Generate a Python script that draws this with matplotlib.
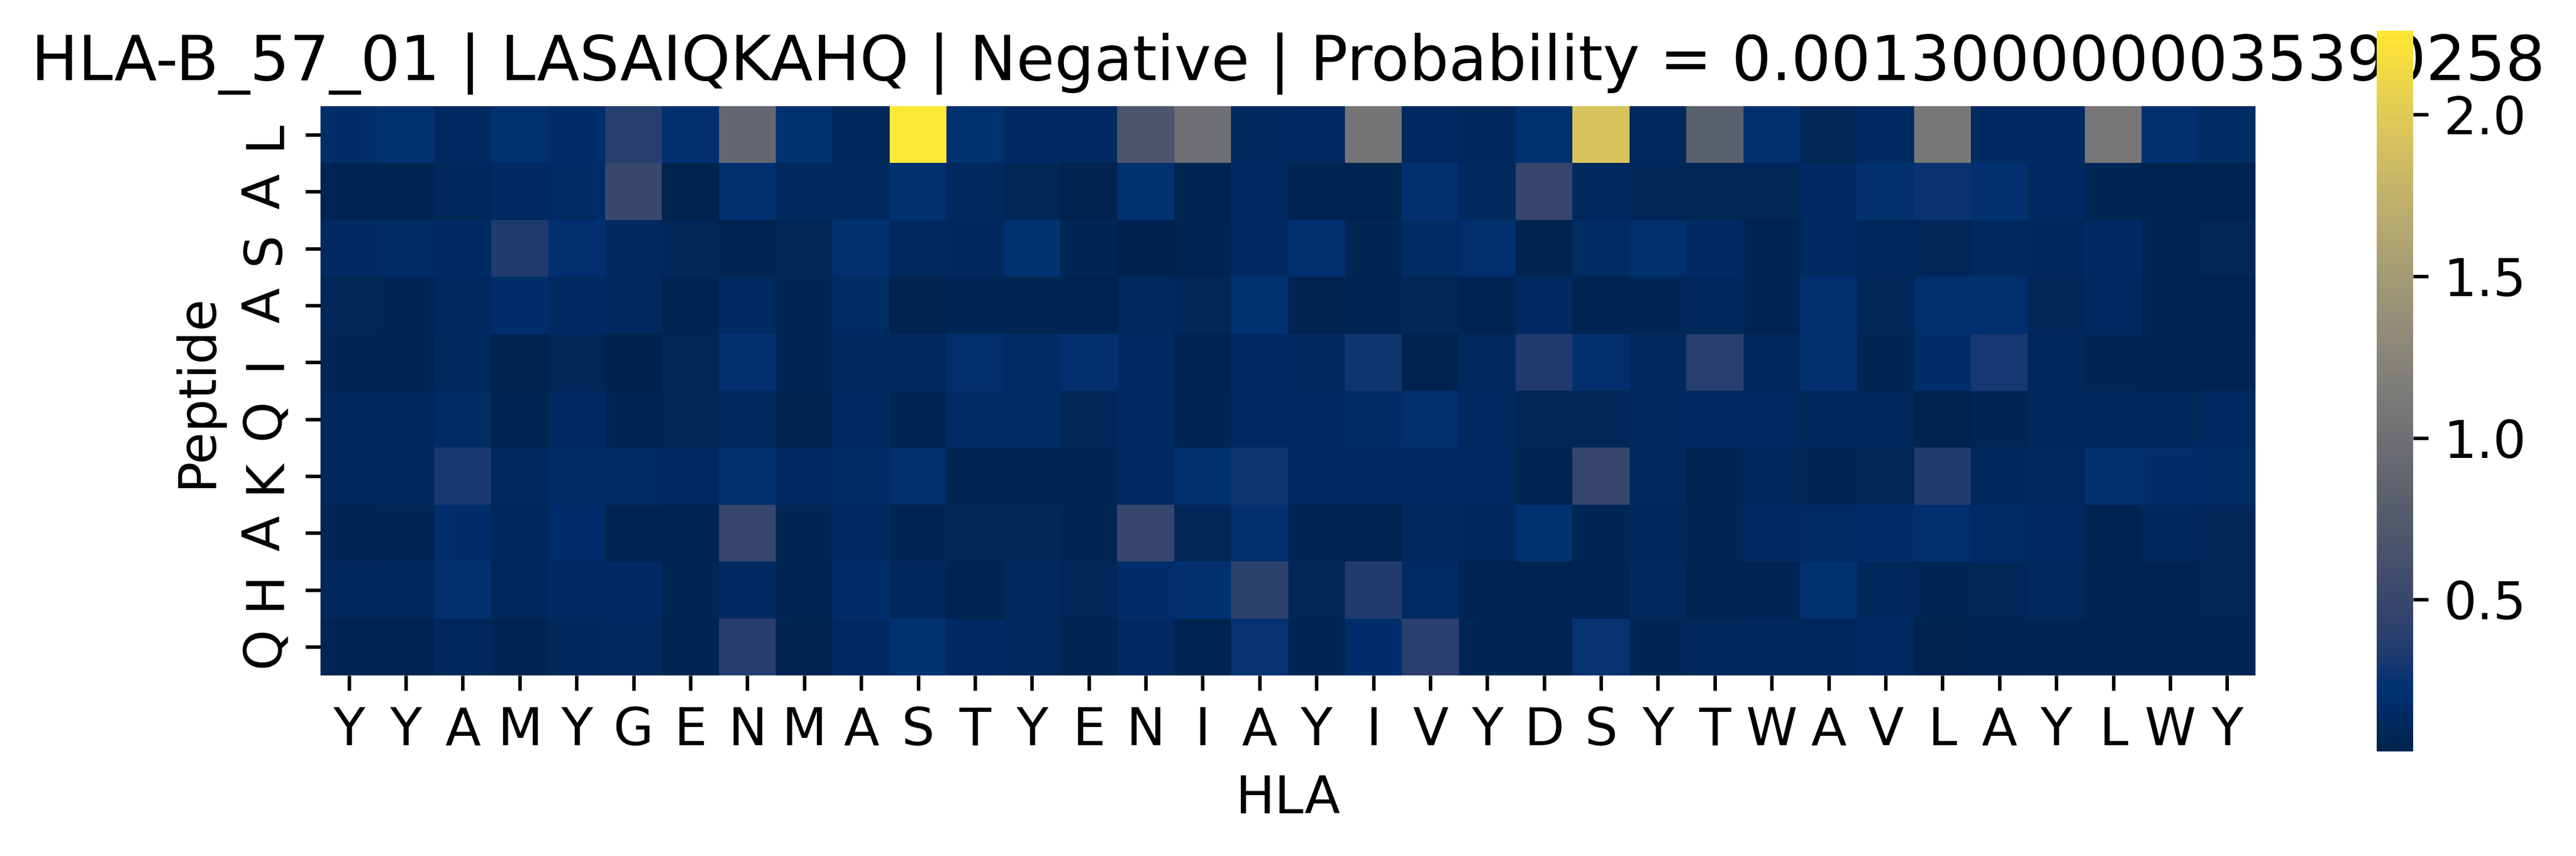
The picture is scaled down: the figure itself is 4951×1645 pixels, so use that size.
import numpy as np
import matplotlib
matplotlib.use("Agg")
import matplotlib.pyplot as plt
import seaborn as sns

hla_labels = list("YYAMYGENMASTYENIAYIVYDSYTWAVLAYLWY")
peptide_labels = list("LASAIQKAHQ")

row_L = [0.17, 0.22, 0.12, 0.22, 0.17, 0.38, 0.20, 0.90, 0.22, 0.10, 2.26, 0.22,
         0.13, 0.13, 0.68, 1.00, 0.11, 0.13, 1.07, 0.12, 0.10, 0.22, 1.93,
         0.11, 0.80, 0.20, 0.09, 0.13, 1.10, 0.13, 0.13, 1.08, 0.21, 0.15]
row_A1 = [0.05, 0.06, 0.10, 0.13, 0.16, 0.50, 0.04, 0.20, 0.11, 0.11, 0.20, 0.11,
          0.09, 0.04, 0.23, 0.05, 0.13, 0.06, 0.05, 0.20, 0.11, 0.48, 0.11,
          0.09, 0.09, 0.09, 0.13, 0.20, 0.25, 0.21, 0.12, 0.08, 0.05, 0.05]
row_S = [0.13, 0.16, 0.14, 0.35, 0.20, 0.11, 0.09, 0.05, 0.09, 0.20, 0.11, 0.10,
         0.22, 0.08, 0.03, 0.06, 0.13, 0.20, 0.08, 0.15, 0.19, 0.04, 0.15,
         0.19, 0.13, 0.06, 0.14, 0.10, 0.09, 0.11, 0.10, 0.13, 0.06, 0.09]
row_A2 = [0.09, 0.08, 0.11, 0.18, 0.14, 0.11, 0.06, 0.14, 0.08, 0.16, 0.04, 0.08,
          0.06, 0.05, 0.11, 0.09, 0.22, 0.04, 0.07, 0.09, 0.06, 0.13, 0.05,
          0.08, 0.10, 0.06, 0.20, 0.09, 0.21, 0.20, 0.09, 0.12, 0.06, 0.05]
row_I = [0.06, 0.06, 0.11, 0.04, 0.09, 0.03, 0.09, 0.21, 0.05, 0.11, 0.11, 0.19,
         0.16, 0.20, 0.14, 0.05, 0.13, 0.11, 0.27, 0.04, 0.11, 0.34, 0.19,
         0.11, 0.38, 0.10, 0.20, 0.06, 0.17, 0.30, 0.10, 0.08, 0.06, 0.06]
row_Q1 = [0.10, 0.10, 0.15, 0.05, 0.13, 0.07, 0.09, 0.11, 0.04, 0.13, 0.06, 0.16,
          0.16, 0.09, 0.14, 0.06, 0.13, 0.12, 0.16, 0.19, 0.12, 0.09, 0.09,
          0.11, 0.13, 0.13, 0.10, 0.10, 0.04, 0.08, 0.10, 0.10, 0.10, 0.13]
row_K = [0.10, 0.10, 0.31, 0.11, 0.15, 0.16, 0.12, 0.20, 0.14, 0.16, 0.19, 0.06,
         0.08, 0.08, 0.13, 0.20, 0.27, 0.14, 0.12, 0.12, 0.12, 0.06, 0.48,
         0.11, 0.06, 0.10, 0.08, 0.09, 0.35, 0.10, 0.11, 0.21, 0.17, 0.16]
row_A3 = [0.06, 0.08, 0.17, 0.10, 0.18, 0.05, 0.06, 0.48, 0.08, 0.13, 0.06, 0.09,
          0.09, 0.06, 0.48, 0.09, 0.21, 0.07, 0.05, 0.11, 0.10, 0.22, 0.08,
          0.10, 0.08, 0.13, 0.16, 0.17, 0.20, 0.16, 0.13, 0.06, 0.10, 0.09]
row_H = [0.10, 0.10, 0.21, 0.10, 0.13, 0.14, 0.08, 0.13, 0.05, 0.17, 0.10, 0.07,
         0.11, 0.09, 0.17, 0.21, 0.42, 0.09, 0.34, 0.15, 0.07, 0.05, 0.06,
         0.11, 0.06, 0.07, 0.23, 0.10, 0.08, 0.09, 0.11, 0.08, 0.05, 0.09]
row_Q2 = [0.06, 0.05, 0.10, 0.06, 0.10, 0.11, 0.06, 0.37, 0.04, 0.13, 0.23, 0.13,
          0.11, 0.06, 0.13, 0.05, 0.24, 0.07, 0.18, 0.40, 0.08, 0.06, 0.24,
          0.08, 0.10, 0.10, 0.10, 0.13, 0.04, 0.06, 0.07, 0.07, 0.07, 0.07]

data = np.array([row_L, row_A1, row_S, row_A2, row_I, row_Q1, row_K, row_A3, row_H, row_Q2])

title = "HLA-B_57_01 | LASAIQKAHQ | Negative | Probability = 0.0013000000035390258"

plt.rcParams['font.size'] = 12
plt.rcParams['font.family'] = ['DejaVu Sans']

W, H = 4951, 1645
fig = plt.figure(figsize=(W / 600, H / 600), dpi=600)
ax = fig.add_axes([616 / W, 1 - 1298 / H, (4335 - 616) / W, (1298 - 204) / H])
cax = fig.add_axes([4568 / W, 1 - 1444 / H, 70 / W, (1444 - 59) / H])

sns.heatmap(data, ax=ax, cbar_ax=cax, cmap="cividis", square=True,
            xticklabels=hla_labels, yticklabels=peptide_labels)
ax.set_xlabel("HLA")
ax.set_ylabel("Peptide")
ax.set_title(title)
ax.tick_params(axis='x', rotation=0)
ax.tick_params(axis='y', rotation=90)
cax.tick_params(labelsize=12)

fig.savefig("out.png", dpi=600)
